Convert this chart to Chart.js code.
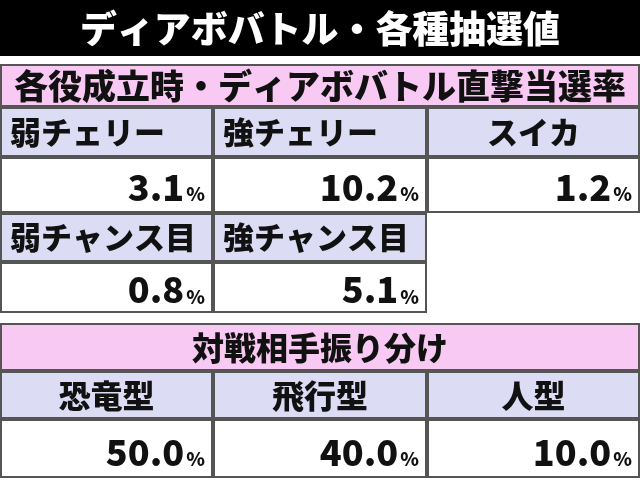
<!DOCTYPE html>
<html><head><meta charset="utf-8">
<script src="https://cdn.jsdelivr.net/npm/chart.js@4"></script>
<style>body{margin:0;background:#fff}canvas{display:block}</style>
</head><body>
<canvas id="c" width="640" height="487"></canvas>
<script>
const title = 'ディアボバトル・各種抽選値';
const header1 = '各役成立時・ディアボバトル直撃当選率';
const roles = ['弱チェリー', '強チェリー', 'スイカ', '弱チャンス目', '強チャンス目'];
const roleRates = ['3.1', '10.2', '1.2', '0.8', '5.1'];
const header2 = '対戦相手振り分け';
const enemies = ['恐竜型', '飛行型', '人型'];
const enemyRates = ['50.0', '40.0', '10.0'];

const FONT = '"Noto Sans CJK JP", "Noto Sans", sans-serif';
const PINK = '#f8c9f2', LAV = '#dcdcf5', LINE = '#555';
const colX = [0, 213, 427, 640];

function cell(ctx, x0, y0, x1, y1, fill) {
  ctx.fillStyle = fill;
  ctx.fillRect(x0, y0, x1 - x0, y1 - y0);
  ctx.strokeStyle = LINE; ctx.lineWidth = 2;
  ctx.strokeRect(x0 + 1, y0 + 1, x1 - x0 - 2, y1 - y0 - 2);
}
function txt(ctx, s, x, y, size, align, color, maxW) {
  ctx.font = '900 ' + size + 'px ' + FONT;
  ctx.fillStyle = color || '#111'; ctx.textAlign = align; ctx.textBaseline = 'middle';
  if (maxW) ctx.fillText(s, x, y, maxW); else ctx.fillText(s, x, y);
}
function value(ctx, v, xr, y) {
  ctx.font = '900 19px ' + FONT;
  const pw = ctx.measureText('%').width;
  txt(ctx, '%', xr, y + 7, 19, 'right');
  txt(ctx, v, xr - pw - 2, y, 36, 'right');
}

const tablePlugin = {
  id: 'table',
  afterDraw(chart) {
    const ctx = chart.ctx;
    ctx.save();
    ctx.fillStyle = '#000'; ctx.fillRect(0, 0, 640, 56);
    txt(ctx, title, 320, 29, 37, 'center', '#fff', 480);
    cell(ctx, 0, 64, 640, 107, PINK);
    txt(ctx, header1, 320, 86, 34, 'center', null, 616);
    const rows = [[107, 157, 213], [213, 262, 313]];
    roles.forEach((r, i) => {
      const ri = Math.floor(i / 3), ci = i % 3, [a, b, c] = rows[ri];
      cell(ctx, colX[ci], a, colX[ci + 1], b, LAV);
      txt(ctx, r, colX[ci] + (ri === 0 && ci === 2 ? 60 : 10), (a + b) / 2, 31, 'left', null, 198);
      cell(ctx, colX[ci], b, colX[ci + 1], c, '#fff');
      value(ctx, roleRates[i], colX[ci + 1] - 8, (b + c) / 2 + 2);
    });
    cell(ctx, 0, 323, 640, 371, PINK);
    txt(ctx, header2, 320, 348, 32, 'center');
    enemies.forEach((e, i) => {
      cell(ctx, colX[i], 371, colX[i + 1], 419, LAV);
      txt(ctx, e, (colX[i] + colX[i + 1]) / 2, 396, 32, 'center');
      cell(ctx, colX[i], 419, colX[i + 1], 478, '#fff');
      value(ctx, enemyRates[i], colX[i + 1] - 8, 452);
    });
    ctx.restore();
  }
};

new Chart(document.getElementById('c'), {
  type: 'bar',
  data: { labels: roles, datasets: [{ data: roleRates.map(Number), backgroundColor: 'rgba(0,0,0,0)' }] },
  options: {
    responsive: false, devicePixelRatio: 1, animation: false,
    plugins: { legend: { display: false }, tooltip: { enabled: false } },
    scales: { x: { display: false }, y: { display: false } }
  },
  plugins: [tablePlugin]
});
</script>
</body></html>
